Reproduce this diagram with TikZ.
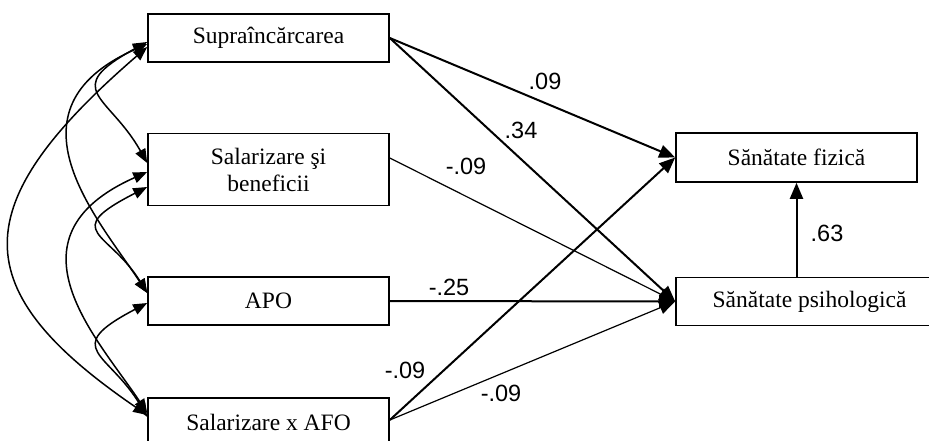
\documentclass[tikz,border=0pt]{standalone}
\usepackage{fontspec}
\setmainfont{Liberation Serif}
\newfontfamily\numfont{Liberation Sans}
\usetikzlibrary{arrows.meta,calc}
\begin{document}
\begin{tikzpicture}[x=1pt,y=-1pt,
  box/.style={draw, line width=1.6pt, minimum width=241pt, minimum height=48pt, inner sep=0pt,
    font=\fontsize{23.5}{27}\selectfont, align=center},
  num/.style={font=\numfont\fontsize{23.5}{26}\selectfont, inner sep=0pt},
  thickpath/.style={line width=2pt, -{Triangle[length=16pt,width=13pt]}},
  thinpath/.style={line width=1.2pt, -{Triangle[length=16pt,width=13pt]}},
  cov/.style={line width=1.5pt, {Triangle[length=14pt,width=11pt]}-{Triangle[length=14pt,width=11pt]}}]
\useasboundingbox (0,0) rectangle (929,441);
\node[box] (supra) at (268.5,38) {Supraîncărcarea};
\node[box, minimum height=72pt] (sal) at (268.5,169.5) {Salarizare şi\\beneficii};
\node[box] (apo) at (268.5,301) {APO};
\node[box] (sxafo) at (268.5,422) {Salarizare x AFO};
\node[box, minimum height=49pt] (fiz) at (796.5,157.5) {Sănătate fizică};
\node[box, minimum width=267pt] (psi) at (809.5,301.5) {Sănătate psihologică};

\draw[thickpath] (supra.east) -- (fiz.west);
\draw[thickpath] (supra.east) -- (psi.west);
\draw[thinpath] ($(sal.east)+(0,-11.5)$) -- (psi.west);
\draw[thickpath] (apo.east) -- (psi.west);
\draw[thickpath] ($(sxafo.east)+(0,-2)$) -- (fiz.west);
\draw[thinpath] ($(sxafo.east)+(0,-2)$) -- (psi.west);
\draw[thickpath] (psi.north -| fiz.south) -- (fiz.south);

\node[num] (l1) at (545,81) {.09};
\node[num] (l2) at (521,130) {.34};
\node[num] (l3) at (466,166) {-.09};
\node[num] (l4) at (449,287) {-.25};
\node[num] (l5) at (827,233) {.63};
\node[num] (l6) at (405,370) {-.09};
\node[num] (l7) at (501,393) {-.09};

\draw[cov] ($(supra.west)+(0,4)$) .. controls +(-88,48) and +(-38,-68) .. ($(sal.west)+(0,-6.5)$);
\draw[cov] ($(supra.west)+(0,6)$) .. controls +(-148,66) and +(-48,-73) .. ($(apo.west)+(0,-8)$);
\draw[cov] ($(supra.west)+(0,9)$) .. controls +(-183,158) and +(-183,-125) .. ($(sxafo.west)+(0,-7)$);
\draw[cov] ($(sal.west)+(0,17.5)$) .. controls +(-88,45) and +(-38,-62) .. ($(apo.west)+(0,-8)$);
\draw[cov] ($(sal.west)+(0,2.5)$) .. controls +(-148,66) and +(-48,-73) .. ($(sxafo.west)+(0,-9)$);
\draw[cov] ($(apo.west)+(0,2)$) .. controls +(-88,46) and +(-38,-65) .. ($(sxafo.west)+(0,-5)$);
\end{tikzpicture}
\end{document}
